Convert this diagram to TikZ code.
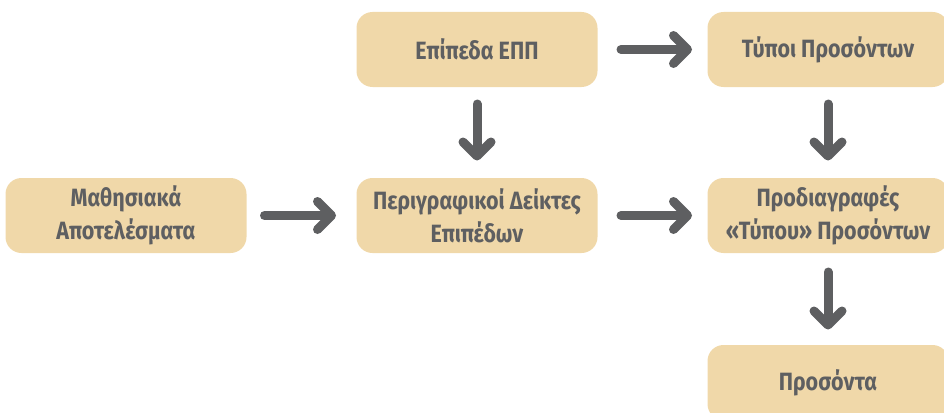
\documentclass[tikz,border=0pt]{standalone}
\usepackage{fontspec}
\setmainfont[FakeStretch=0.86]{Fira Sans}
\usetikzlibrary{arrows.meta}
\usetikzlibrary{positioning}

\definecolor{boxfill}{HTML}{F0D8A9}
\definecolor{inkgrey}{HTML}{5E5F61}

\begin{document}
\begin{tikzpicture}[-{Straight Barb[round,length=14pt,width=28pt]},line width=9pt,line cap=round,
			draw=inkgrey,node distance=351pt,font=\fontsize{25}{33}\selectfont\bfseries]
			\tikzstyle{box}=[draw=none,fill=boxfill,rounded corners=16pt,minimum width=241pt,
			minimum height=75pt,align=center,text=inkgrey]
			
			\useasboundingbox (0,0) rectangle (944pt,-412pt);
			
			\node[box]         (LO)   at (126pt,-215.5pt)   {Μαθησιακά\\Αποτελέσματα};
			\node[box]         (Desc) [right of=LO]         {Περιγραφικοί Δείκτες\\Επιπέδων};
			\node[box]         (Lvl)  [above of=Desc,node distance=166pt] {Επίπεδα ΕΠΠ};
			\node[box]         (Spec) [right of=Desc]       {Προδιαγραφές\\«Τύπου» Προσόντων};
			\node[box]         (Type) [above of=Spec,node distance=166pt] {Τύποι Προσόντων};
			\node[box]         (Qual) [below of=Spec,node distance=167pt] {Προσόντα};
			
			\path (LO)   edge [shorten <=13.5pt,shorten >=16pt]   (Desc)
			(Lvl)  edge [shorten <=19pt,shorten >=11pt]     (Type)
			(Desc) edge [shorten <=19pt,shorten >=11pt]     (Spec)
			(Lvl)  edge [shorten <=12.5pt,shorten >=13pt]   (Desc)
			(Type) edge [shorten <=12.5pt,shorten >=13pt]   (Spec)
			(Spec) edge [shorten <=14.5pt,shorten >=11pt]   (Qual)
			;
\end{tikzpicture}
\end{document}
